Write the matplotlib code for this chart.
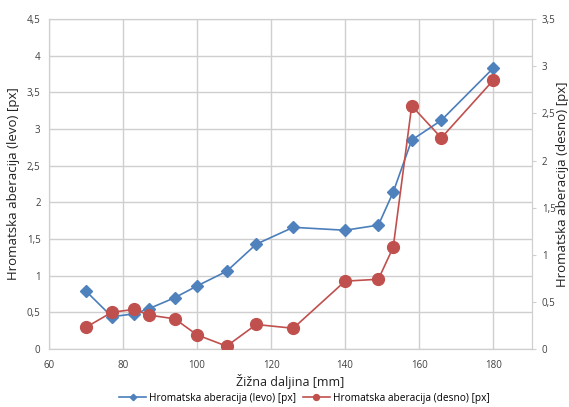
import numpy as np
import matplotlib.pyplot as plt
from matplotlib.ticker import FuncFormatter

plt.rcParams['font.family'] = ['Open Sans', 'DejaVu Sans']

# zarisna daljina [mm]
x = [70, 77, 83, 87, 94, 100, 108, 116, 126, 140, 149, 153, 158, 166, 180]
levo = [0.79, 0.44, 0.48, 0.55, 0.70, 0.86, 1.06, 1.43, 1.66, 1.62, 1.69, 2.14, 2.85, 3.12, 3.83]
desno = [0.23, 0.39, 0.42, 0.36, 0.32, 0.15, 0.03, 0.26, 0.22, 0.72, 0.74, 1.08, 2.58, 2.24, 2.85]

x_ticks = [60, 80, 100, 120, 140, 160, 180]
left_ticks = np.arange(0, 4.51, 0.5)
right_ticks = np.arange(0, 3.51, 0.5)

blue = '#4A7EBB'
red = '#C0504D'
grid_c = '#CFCFCF'


def comma(v, pos):
    s = ('%.1f' % v).rstrip('0').rstrip('.')
    return s.replace('.', ',')


fig = plt.figure(figsize=(5.69, 4.07), dpi=100)
ax = fig.add_axes([0.086, 0.1425, 0.849, 0.8105])
ax2 = ax.twinx()

l1, = ax.plot(x, levo, color=blue, lw=1.2, marker='D', ms=6.5, mfc='#4F81BD', mec='#4F81BD',
              label='Hromatska aberacija (levo) [px]', zorder=3)
l2, = ax2.plot(x, desno, color=red, lw=1.2, marker='o', ms=8.5, mfc=red, mec=red,
               label='Hromatska aberacija (desno) [px]', zorder=3)

ax.set_xlim(60, 190.5)
ax.set_ylim(0, 4.5)
ax2.set_ylim(0, 3.5)
ax.set_xticks(x_ticks)
ax.set_yticks(left_ticks)
ax2.set_yticks(right_ticks)
ax.yaxis.set_major_formatter(FuncFormatter(comma))
ax2.yaxis.set_major_formatter(FuncFormatter(comma))

ax.grid(True, color=grid_c, lw=1.0)
ax.set_axisbelow(True)
for a in (ax, ax2):
    for sp in a.spines.values():
        sp.set_color(grid_c)
    a.tick_params(labelsize=7, colors='#404040', length=0, pad=6)
ax.tick_params(axis='x', pad=8)
ax2.tick_params(length=3, color=grid_c, pad=4)

ax.set_xlabel('Žižna daljina [mm]', fontsize=9, color='#202020', labelpad=2)
ax.set_ylabel('Hromatska aberacija (levo) [px]', fontsize=9.5, color='#202020', labelpad=5)
ax2.set_ylabel('Hromatska aberacija (desno) [px]', fontsize=9.5, color='#202020')
ax2.yaxis.set_label_coords(1.063, 0.5)
ax2.yaxis.label.set_va('center')

fig.legend(handles=[l1, l2], loc='lower center', bbox_to_anchor=(0.535, -0.014), ncol=2,
           frameon=False, fontsize=7.3, handlelength=2.7, handletextpad=0.3,
           columnspacing=0.6, markerscale=0.5)

fig.savefig('out.png', dpi=100)
